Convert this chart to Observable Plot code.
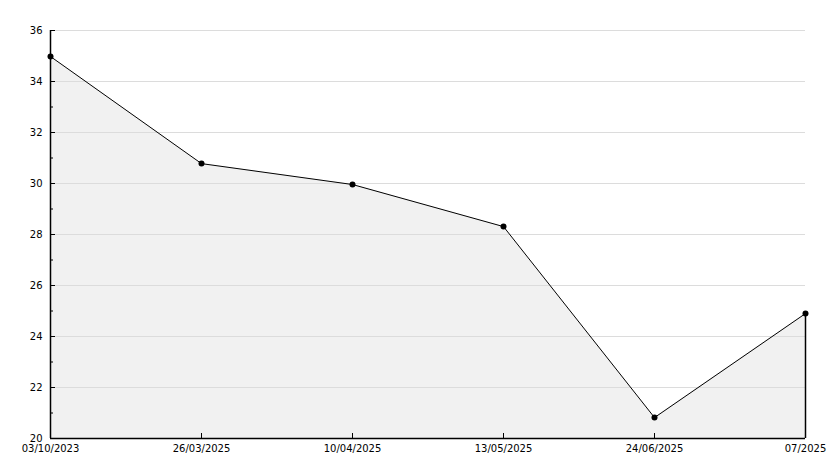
<!DOCTYPE html>
<html>
<head>
<meta charset="utf-8">
<script src="https://cdn.jsdelivr.net/npm/d3@7"></script>
<script src="https://cdn.jsdelivr.net/npm/@observablehq/plot@0.6"></script>
<style>
  html, body { margin: 0; padding: 0; background: #fff; }
  svg { display: block; }
</style>
</head>
<body>
<div id="chart"></div>
<script>
const dates = ["03/10/2023", "26/03/2025", "10/04/2025", "13/05/2025", "24/06/2025", "07/2025"];
const values = [34.98, 30.78, 29.96, 28.31, 20.82, 24.9];
const yMajorTicks = [20, 22, 24, 26, 28, 30, 32, 34, 36];
const yMinorTicks = [21, 23, 25, 27, 29, 31, 33, 35];

const data = dates.map((d, i) => ({date: d, value: values[i]}));
const W = 834, H = 468;
const mL = 50, mR = 29, mT = 30, mB = 30;
const plotW = W - mL - mR, plotH = H - mT - mB;

const chart = Plot.plot({
  width: W,
  height: H,
  marginLeft: mL,
  marginRight: mR,
  marginTop: mT,
  marginBottom: mB,
  style: {fontFamily: "DejaVu Sans", fontSize: "10px", color: "#000", background: "#fff"},
  x: {type: "point", domain: dates, padding: 0, label: null},
  y: {domain: [20, 36], label: null},
  marks: [
    Plot.areaY(data, {x: "date", y1: 20, y2: "value", fill: "#f1f1f1", curve: "linear"}),
    Plot.ruleY(yMajorTicks.filter(v => v > 20), {stroke: "#dcdcdc", strokeWidth: 1}),
    Plot.ruleX(data.slice(-1), {x: "date", y1: 20, y2: "value", stroke: "#000", strokeWidth: 1.5}),
    Plot.lineY(data, {x: "date", y: "value", stroke: "#000", strokeWidth: 1}),
    Plot.dot(data, {x: "date", y: "value", r: 3, fill: "#000", stroke: "none"}),
    // axes lines
    Plot.ruleX([dates[0]], {stroke: "#000", strokeWidth: 1.5}),
    Plot.ruleY([20], {stroke: "#000", strokeWidth: 1.5}),
    // inward ticks
    Plot.tickY(yMajorTicks, {y: d => d, stroke: "#000", insetRight: plotW - 5}),
    Plot.tickY(yMinorTicks, {y: d => d, stroke: "#000", insetRight: plotW - 3}),
    Plot.tickX(dates.slice(1, -1), {x: d => d, stroke: "#000", insetTop: plotH - 5}),
    Plot.axisY(yMajorTicks, {tickSize: 0, tickPadding: 8, fill: "#000"}),
    Plot.axisX(dates, {tickSize: 0, tickPadding: 6, fill: "#000"})
  ]
});
document.getElementById("chart").appendChild(chart);
</script>
</body>
</html>
